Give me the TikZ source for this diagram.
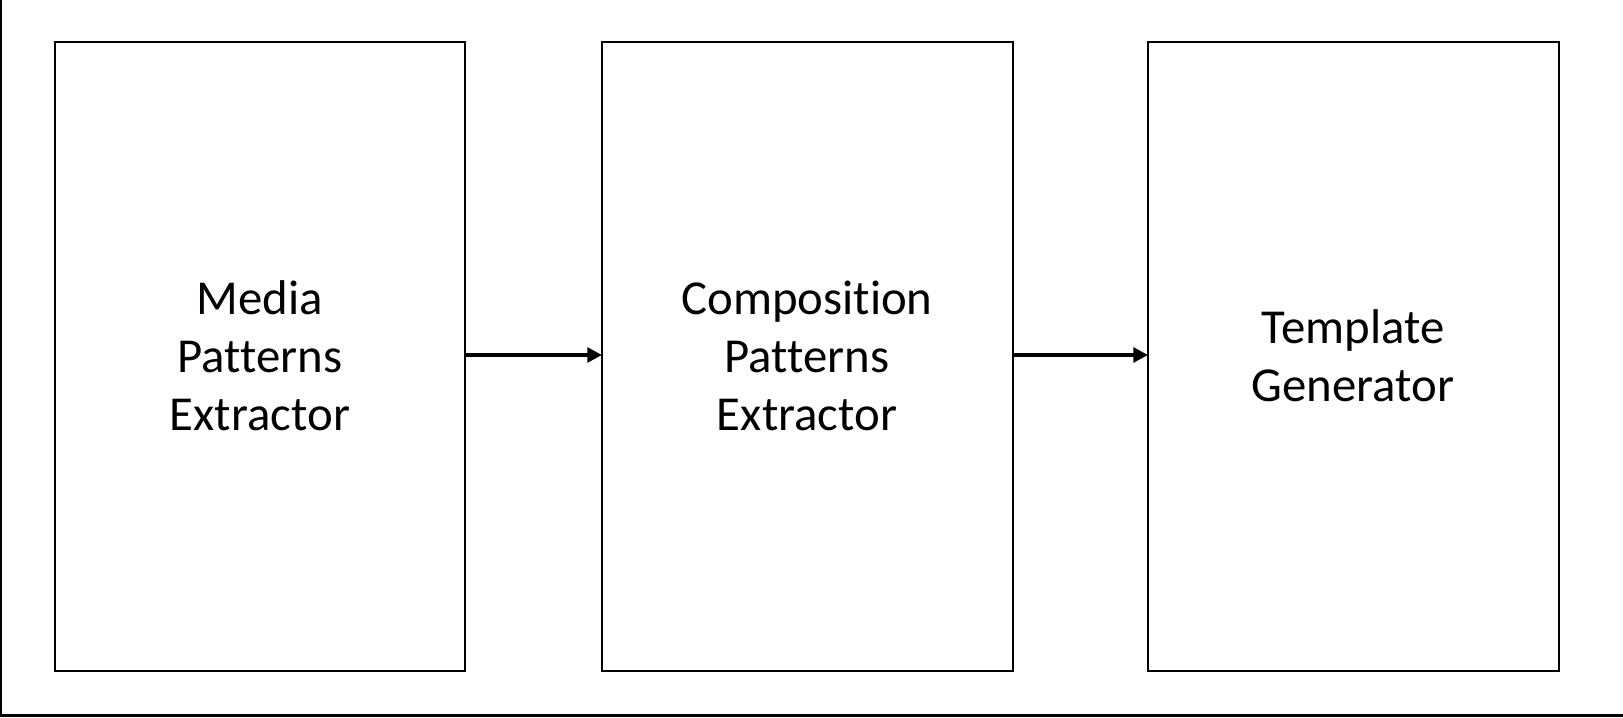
\documentclass[tikz,border=0pt]{standalone}
\usepackage{fontspec}
\setmainfont{Carlito}[Ligatures={NoCommon}]
\usetikzlibrary{arrows.meta}
\begin{document}
\begin{tikzpicture}[x=0.75pt,y=-0.75pt,
  block/.style={draw=black,line width=1.6pt},
  label/.style={align=center,font=\fontsize{36.6}{43.5}\selectfont,inner sep=0pt},
  conn/.style={line width=3pt,-{Triangle[length=11pt,width=11pt]},shorten >=0pt}]
\useasboundingbox (0,0) rectangle (1623,717);
\draw[line width=2.2pt] (1,0) -- (1,715.5) -- (1623,715.5);
\draw[block] (55,42) rectangle (465,671);
\draw[block] (602,42) rectangle (1013,671);
\draw[block] (1148,42) rectangle (1559,671);
\coordinate (b1r) at (465,355);
\coordinate (b2l) at (602,355);
\coordinate (b2r) at (1013,355);
\coordinate (b3l) at (1148,355);
\node[label] (t1) at (260,356) {Media\\Patterns\\Extractor};
\node[label] (t2) at (807,356) {Composition\\Patterns\\Extractor};
\node[label] (t3) at (1353,356) {Template\\Generator};
\draw[conn] (b1r) -- (b2l);
\draw[conn] (b2r) -- (b3l);
\end{tikzpicture}
\end{document}
